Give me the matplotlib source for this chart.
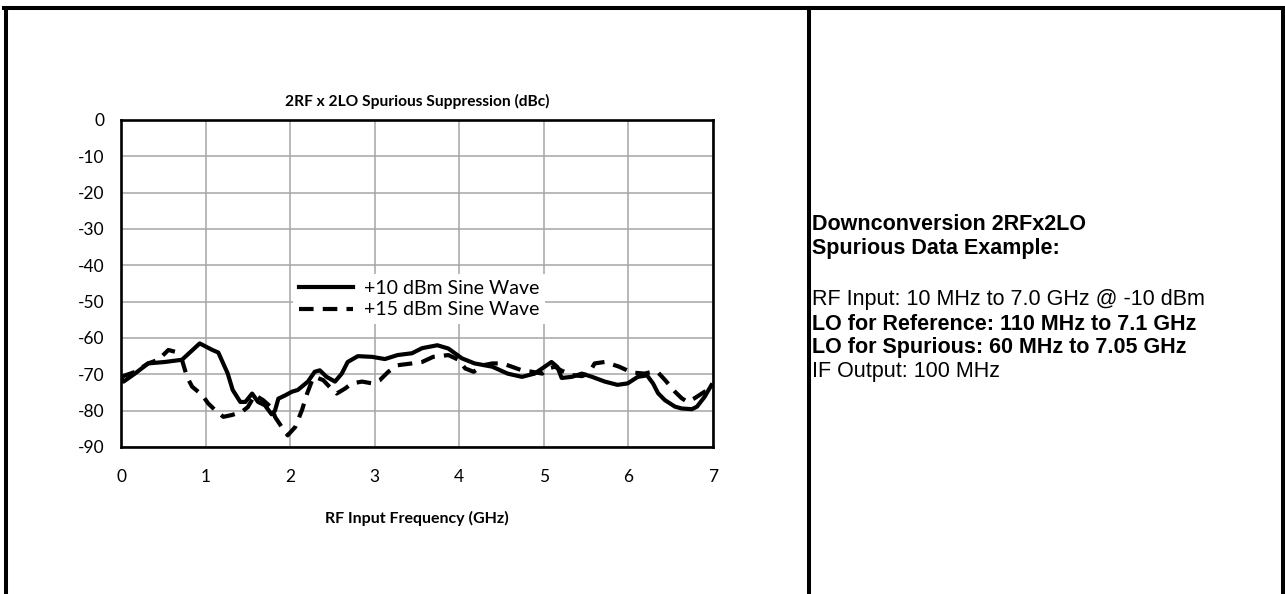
import numpy as np
import matplotlib
matplotlib.use('Agg')
import matplotlib.pyplot as plt
from matplotlib.lines import Line2D

plt.rcParams['axes.unicode_minus'] = False

# RF input frequency (GHz) and spur suppression (dBc)
f10 = [0.0, 0.03, 0.17, 0.32, 0.52, 0.72, 0.93, 1.08, 1.15, 1.26, 1.32, 1.41, 1.47,
       1.55, 1.62, 1.70, 1.78, 1.82, 1.86, 1.94, 2.02, 2.09, 2.21, 2.29, 2.35, 2.43,
       2.53, 2.61, 2.68, 2.80, 2.97, 3.12, 3.27, 3.44, 3.56, 3.74, 3.87, 4.03, 4.18,
       4.39, 4.57, 4.74, 4.89, 5.01, 5.09, 5.16, 5.21, 5.33, 5.45, 5.57, 5.72, 5.87,
       5.99, 6.11, 6.22, 6.29, 6.35, 6.43, 6.55, 6.63, 6.75, 6.81, 6.90, 6.98]
p10 = [-71, -72, -69.7, -67, -66.6, -66, -61.5, -63.3, -64, -69.7, -74.3, -77.6, -77.6,
       -75.3, -77.6, -78.5, -81, -80, -76.7, -75.8, -74.8, -74.3, -72, -69.3, -68.9, -70.7,
       -72, -69.8, -66.6, -65, -65.2, -65.8, -64.7, -64.2, -62.8, -62, -62.9, -65.6, -67,
       -67.9, -69.8, -70.7, -69.8, -67.9, -66.6, -68, -71, -70.7, -69.8, -70.7, -72, -72.9,
       -72.5, -70.7, -70.3, -72.5, -75.2, -77.1, -78.9, -79.4, -79.6, -78.9, -76.2, -73]

f15 = [0.0, 0.17, 0.32, 0.44, 0.56, 0.64, 0.72, 0.78, 0.84, 0.96, 1.03, 1.11, 1.21,
       1.31, 1.43, 1.50, 1.58, 1.68, 1.79, 1.82, 1.90, 1.97, 2.06, 2.14, 2.20, 2.26,
       2.29, 2.39, 2.50, 2.55, 2.65, 2.73, 2.85, 2.97, 3.06, 3.16, 3.27, 3.44, 3.56,
       3.69, 3.87, 3.99, 4.07, 4.17, 4.28, 4.39, 4.51, 4.62, 4.74, 4.86, 4.98, 5.05,
       5.13, 5.21, 5.33, 5.45, 5.53, 5.60, 5.72, 5.89, 6.04, 6.19, 6.28, 6.35, 6.43,
       6.55, 6.63, 6.70, 6.78, 6.90, 6.98]
p15 = [-70.7, -69.3, -67, -66, -63.3, -63.8, -66, -70.7, -73.4, -75.7, -78, -79.8, -81.7,
       -81.2, -80.3, -79, -75.7, -77.1, -79.4, -81.7, -84.5, -86.8, -84.5, -79.8, -75.3,
       -71.6, -70.7, -71.6, -74.3, -75.3, -73.9, -72.5, -72, -72.5, -71.6, -69.3, -67.5,
       -67, -66.6, -65.2, -64.7, -66, -68.4, -69.3, -67.5, -67, -67, -67.9, -68.9, -69.3,
       -69.8, -68.4, -67.9, -69, -70.2, -70.5, -69.8, -67, -66.6, -67.9, -69.5, -69.8, -69.3,
       -69.5, -71.5, -74.8, -76.6, -77.6, -76.6, -74.8, -74.3, -73.9, -73]

yticks = list(range(-90, 1, 10))
xticks = list(range(0, 8))

fig = plt.figure(figsize=(12.85, 5.94), dpi=100)

# outer frame lines (top, left, right, divider)
lw_frame = 2.9
for xs, ys in [([0.003, 0.997], [0.9865, 0.9865]),
               ([0.0047, 0.0047], [0.0, 0.9865]),
               ([0.9984, 0.9984], [0.0, 0.9865]),
               ([0.6296, 0.6296], [0.0, 0.9865])]:
    fig.add_artist(Line2D(xs, ys, transform=fig.transFigure, color='black', lw=lw_frame))

ax = fig.add_axes([0.0942, 0.2475, 0.4607, 0.5505])
ax.plot(f10, p10, color='black', lw=3, label='+10 dBm Sine Wave', zorder=3)
ax.plot(f15, p15[:len(f15)], color='black', lw=3, dashes=(3.5, 2.2),
        label='+15 dBm Sine Wave', zorder=3)

ax.set_xlim(0, 7)
ax.set_ylim(-90, 0)
ax.set_xticks(xticks)
ax.set_yticks(yticks)
ax.grid(True, color='#a6a6a6', lw=1.1, zorder=0)
ax.set_axisbelow(True)
for s in ax.spines.values():
    s.set_linewidth(1.9)
    s.set_color('black')
ax.tick_params(length=0, labelsize=12.5)
ax.tick_params(axis='x', pad=16)
ax.tick_params(axis='y', pad=12)
for lab in ax.get_xticklabels() + ax.get_yticklabels():
    lab.set_family('Lato')

ax.set_title('2RF x 2LO Spurious Suppression (dBc)', fontsize=11.2, fontweight='bold',
             family='Lato', pad=10)
ax.set_xlabel('RF Input Frequency (GHz)', fontsize=11.5, fontweight='bold', family='Lato')
ax.xaxis.set_label_coords(0.5, -0.197)

leg = ax.legend(loc='upper left', bbox_to_anchor=(0.29, 0.53), frameon=True,
                framealpha=1, edgecolor='white', fancybox=False, handlelength=2.8,
                handletextpad=0.55, borderpad=0.3,
                prop={'family': 'Lato', 'size': 14}, borderaxespad=0, labelspacing=0.25)
leg.get_frame().set_linewidth(0)

# description text on the right
tx = 0.632
lines = [('Downconversion 2RFx2LO', 'bold', 225),
         ('Spurious Data Example:', 'bold', 249),
         ('RF Input: 10 MHz to 7.0 GHz @ -10 dBm', 'normal', 300),
         ('LO for Reference: 110 MHz to 7.1 GHz', 'bold', 324),
         ('LO for Spurious: 60 MHz to 7.05 GHz', 'bold', 348),
         ('IF Output: 100 MHz', 'normal', 372)]
for txt, w, ypx in lines:
    fig.text(tx, 1 - ypx / 594, txt, fontsize=15.5, fontweight=w,
             family='Liberation Sans', va='center', ha='left')

fig.savefig('out.png', dpi=100)
